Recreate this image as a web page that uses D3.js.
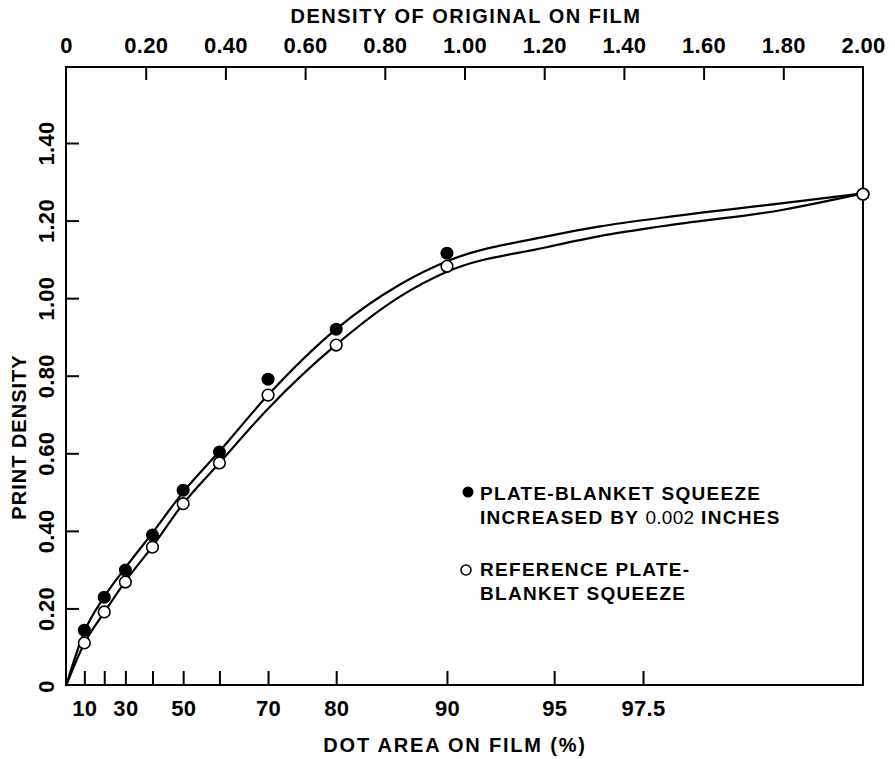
<!DOCTYPE html>
<html>
<head>
<meta charset="utf-8">
<script src="https://cdn.jsdelivr.net/npm/d3@7"></script>
<style>
	body { margin: 0; background: #fff; }
	svg text { font-family: "Liberation Sans", Arial, Helvetica, sans-serif; fill: #000; }
</style>
</head>
<body>
<div id="chart"></div>
<script>
/* 上轴: density of original on film */
const densityTicks = [0, 0.2, 0.4, 0.6, 0.8, 1.0, 1.2, 1.4, 1.6, 1.8, 2.0];
/* 左轴: print density */
const printTicks = [0, 0.2, 0.4, 0.6, 0.8, 1.0, 1.2, 1.4];
/* 下轴: dot area (%) and where each sits on the density scale */
const dotAreaLabels = ["10", "", "30", "", "50", "", "70", "80", "90", "95", "97.5"];
const dotAreaDensity = [0.046, 0.096, 0.149, 0.217, 0.294, 0.385, 0.507, 0.678, 0.956, 1.225, 1.448];

/* measured points (x in density of original) */
const pointDensity = [0.046, 0.096, 0.149, 0.217, 0.294, 0.385, 0.507, 0.678, 0.956, 2.0];
const squeezeValues = [0.144, 0.229, 0.299, 0.389, 0.505, 0.603, 0.791, 0.92, 1.116, 1.268];
const referenceValues = [0.111, 0.191, 0.268, 0.358, 0.47, 0.575, 0.75, 0.879, 1.082, 1.268];

/* fitted curves */
const curveDensity = [0, 0.046, 0.096, 0.149, 0.217, 0.294, 0.385, 0.507, 0.678, 0.838, 0.956, 1.2, 1.34, 1.5, 1.8, 2.0];
const squeezeCurve = [0, 0.14, 0.23, 0.305, 0.395, 0.50, 0.605, 0.75, 0.92, 1.035, 1.095, 1.158, 1.185, 1.208, 1.245, 1.27];
const referenceCurve = [0, 0.11, 0.19, 0.27, 0.36, 0.47, 0.575, 0.715, 0.88, 1.004, 1.068, 1.13, 1.16, 1.186, 1.228, 1.27];

const legendLines = [
	["PLATE-BLANKET SQUEEZE", ["INCREASED BY ", "0.002", " INCHES"]],
	["REFERENCE PLATE-", ["BLANKET SQUEEZE"]]
];

const W = 895, H = 759;
const box = {L: 66, R: 863, T: 67, B: 686};

let svg = d3.select("#chart").append("svg")
	.attr("width", W)
	.attr("height", H);

let x = d3.scaleLinear().domain([0, 2]).range([box.L, box.R]);
let y = d3.scaleLinear().domain([0, 1.4]).range([box.B, 143]);

const fmt2 = (d) => d === 0 ? "0" : d3.format(".2f")(d);

/* top axis */
let gTop = svg.append("g")
	.attr("transform", `translate(0,${box.T})`)
	.call(d3.axisTop(x).tickValues(densityTicks).tickFormat(fmt2).tickSize(-13).tickPadding(14));
gTop.select(".domain").remove();
gTop.selectAll(".tick line").attr("stroke-width", 2)
	.attr("opacity", (d) => (d === 0 || d === 2) ? 0 : 1);
gTop.selectAll(".tick text").attr("font-size", 22).attr("font-weight", "bold").attr("letter-spacing", 0.3);

/* left axis */
let gLeft = svg.append("g")
	.attr("transform", `translate(${box.L},0)`)
	.call(d3.axisLeft(y).tickValues(printTicks).tickFormat(fmt2).tickSize(-13));
gLeft.select(".domain").remove();
gLeft.selectAll(".tick line").attr("stroke-width", 2)
	.attr("opacity", (d) => d === 0 ? 0 : 1);
gLeft.selectAll(".tick text")
	.attr("font-size", 22).attr("font-weight", "bold").attr("letter-spacing", 0.3)
	.attr("text-anchor", "middle")
	.attr("x", 0).attr("dy", "0.36em")
	.attr("transform", "translate(-20,0) rotate(-90)");

/* bottom axis */
let gBottom = svg.append("g")
	.attr("transform", `translate(0,${box.B - 1})`)
	.call(d3.axisBottom(x).tickValues(dotAreaDensity)
		.tickFormat((d, i) => dotAreaLabels[i]).tickSize(-14).tickPadding(15));
gBottom.select(".domain").remove();
gBottom.selectAll(".tick line").attr("stroke-width", 2);
gBottom.selectAll(".tick text").attr("font-size", 22).attr("font-weight", "bold").attr("letter-spacing", 0.3);

/* frame */
svg.append("rect")
	.attr("x", box.L).attr("y", box.T)
	.attr("width", box.R - box.L).attr("height", box.B - 1 - box.T)
	.attr("fill", "none").attr("stroke", "#000").attr("stroke-width", 2);

/* axis titles */
svg.append("text")
	.attr("x", 466).attr("y", 23)
	.attr("text-anchor", "middle")
	.attr("font-size", 20).attr("font-weight", "bold").attr("letter-spacing", 1.5)
	.text("DENSITY OF ORIGINAL ON FILM");
svg.append("text")
	.attr("x", 455).attr("y", 752)
	.attr("text-anchor", "middle")
	.attr("font-size", 20).attr("font-weight", "bold").attr("letter-spacing", 1.8)
	.text("DOT AREA ON FILM (%)");
svg.append("text")
	.attr("transform", "translate(26,437) rotate(-90)")
	.attr("text-anchor", "middle")
	.attr("font-size", 20).attr("font-weight", "bold").attr("letter-spacing", 1)
	.text("PRINT DENSITY");

/* curves */
let line = d3.line()
	.x((d) => x(d[0]))
	.y((d) => y(d[1]))
	.curve(d3.curveMonotoneX);
[squeezeCurve, referenceCurve].forEach((vals) => {
	svg.append("path")
		.datum(curveDensity.map((d, i) => [d, vals[i]]))
		.attr("d", line)
		.attr("fill", "none")
		.attr("stroke", "#000")
		.attr("stroke-width", 2.2);
});

/* points */
svg.append("g").selectAll("circle")
	.data(pointDensity.map((d, i) => [d, squeezeValues[i]]))
	.join("circle")
	.attr("cx", (d) => x(d[0])).attr("cy", (d) => y(d[1]))
	.attr("r", 6.5).attr("fill", "#000");
svg.append("g").selectAll("circle")
	.data(pointDensity.map((d, i) => [d, referenceValues[i]]))
	.join("circle")
	.attr("cx", (d) => x(d[0])).attr("cy", (d) => y(d[1]))
	.attr("r", 5.8).attr("fill", "#fff").attr("stroke", "#000").attr("stroke-width", 1.6);

/* legend */
let legend = svg.append("g").attr("transform", "translate(468,0)");
legend.append("circle").attr("cx", 0).attr("cy", 492).attr("r", 5.5).attr("fill", "#000");
legend.append("circle").attr("cx", -2).attr("cy", 570).attr("r", 5)
	.attr("fill", "#fff").attr("stroke", "#000").attr("stroke-width", 1.6);
const legendY = [[500, 524], [576, 600]];
legendLines.forEach((entry, k) => {
	legend.append("text")
		.attr("x", 12).attr("y", legendY[k][0])
		.attr("font-size", 19).attr("font-weight", "bold").attr("letter-spacing", 1.3)
		.text(entry[0]);
	let t = legend.append("text")
		.attr("x", 12).attr("y", legendY[k][1])
		.attr("font-size", 19).attr("font-weight", "bold").attr("letter-spacing", 1.3);
	entry[1].forEach((part) => {
		t.append("tspan")
			.attr("font-weight", part === "0.002" ? "normal" : "bold")
			.attr("letter-spacing", part === "0.002" ? 0.3 : 1.3)
			.text(part);
	});
});
</script>
</body>
</html>
